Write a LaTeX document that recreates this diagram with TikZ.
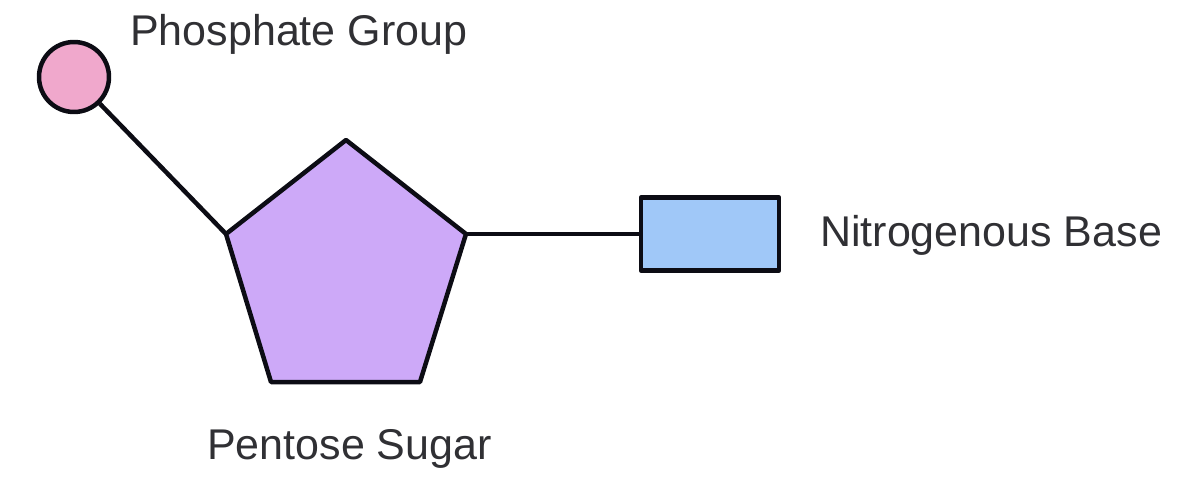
\documentclass[tikz,border=0pt]{standalone}
\usepackage{fontspec}
\setmainfont{Liberation Sans}
\definecolor{pinkc}{HTML}{F0A8CC}
\definecolor{purplec}{HTML}{CDA9F8}
\definecolor{bluec}{HTML}{A0C8F8}
\definecolor{ink}{HTML}{0C0C14}
\definecolor{textc}{HTML}{303034}
\tikzset{x=1pt,y=-1pt,
 shapeline/.style={draw=ink,line width=4.5pt,line join=round},
 conn/.style={draw=ink,line width=4.5pt},
 lab/.style={text=textc,font=\fontsize{43}{48}\selectfont,inner sep=0pt,anchor=base west}}
\begin{document}
\begin{tikzpicture}
\useasboundingbox (0,0) rectangle (1187,492);
\coordinate (pa) at (346,140);
\coordinate (pb) at (466,234);
\coordinate (pc) at (420,382);
\coordinate (pd) at (271,382);
\coordinate (pe) at (226,234);
\node[circle,minimum size=70pt,inner sep=0pt,shapeline,fill=pinkc] (phos) at (74,77) {};
\node[rectangle,minimum width=138pt,minimum height=73pt,inner sep=0pt,shapeline,fill=bluec] (base) at (710,234) {};
\draw[shapeline,fill=purplec] (pa)--(pb)--(pc)--(pd)--(pe)--cycle;
\draw[conn] (phos)--(pe);
\draw[conn] (pb)--(base);
\node[lab] (t1) at (130,46) {Phosphate Group};
\node[lab] (t2) at (820,246) {Nitrogenous Base};
\node[lab] (t3) at (207,459) {Pentose Sugar};
\end{tikzpicture}
\end{document}
